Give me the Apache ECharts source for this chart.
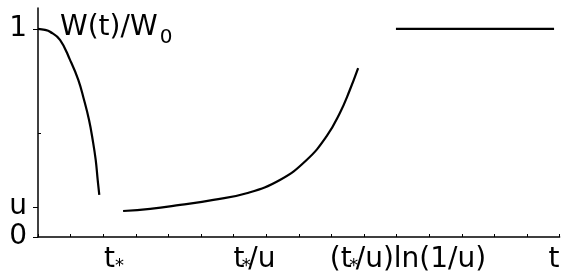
<!DOCTYPE html>
<html>
<head>
<meta charset="utf-8">
<script src="https://cdn.jsdelivr.net/npm/echarts@6/dist/echarts.min.js"></script>
<style>
  html, body { margin: 0; padding: 0; background: #fff; }
  #chart { width: 562px; height: 278px; }
</style>
</head>
<body>
<div id="chart"></div>
<script>
// x measured in tick steps (16 steps along the axis), y is W(t)/W0
const decayX = [0, 0.215, 0.368, 0.675, 0.982, 1.236, 1.411, 1.564, 1.678, 1.770, 1.831, 1.880];
const decayY = [1.0, 0.995, 0.986, 0.947, 0.851, 0.755, 0.659, 0.563, 0.466, 0.370, 0.274, 0.202];
const riseX = [2.61, 3.44, 4.36, 5.38, 6.40, 7.42, 8.24, 8.85, 9.26, 9.55, 9.82];
const riseY = [0.125, 0.135, 0.154, 0.178, 0.210, 0.274, 0.370, 0.483, 0.596, 0.700, 0.811];
const plateauX = [10.98, 15.83];
const plateauY = [1, 1];

const U = 0.144;
const xLabelPos = [2.33, 6.64, 11.35, 15.83];
const xLabelText = ["{m|t}{s|*}", "{m|t}{z|*}{m|/u}", "{m|(t}{z|*}{m|/u)ln(1/u)}", "{m|t}"];
const yLabelPos = [0, U, 1];
const yLabelText = ["0", "u", "1"];

const font = "DejaVu Sans";
const pairs = (xs, ys) => xs.map((x, i) => [x, ys[i]]);

const chart = echarts.init(document.getElementById("chart"));

const curve = (data, smooth) => ({
  type: "line",
  data: data,
  smooth: smooth,
  showSymbol: false,
  lineStyle: { color: "#000", width: 2.2 },
  z: 3,
});

chart.setOption({
  animation: false,
  backgroundColor: "#fff",
  title: {
    text: "{a|W(t)/W}{b|0}",
    left: 60,
    top: 14,
    padding: 0,
    textStyle: {
      fontWeight: "normal",
      rich: {
        a: { fontFamily: font, fontSize: 28, fontWeight: "normal", color: "#000", lineHeight: 28, verticalAlign: "top" },
        b: {
          fontFamily: font, fontSize: 20, fontWeight: "normal", color: "#000",
          lineHeight: 4, padding: [14, 0, 0, 2], verticalAlign: "top",
        },
      },
    },
  },
  grid: { left: 38, right: 2.4, top: 8, bottom: 41, outerBoundsMode: "none" },
  xAxis: {
    type: "value",
    min: 0,
    max: 16,
    interval: 1,
    splitLine: { show: false },
    axisLine: { lineStyle: { color: "#000", width: 1.5 } },
    axisTick: { inside: true, length: 3, lineStyle: { color: "#000", width: 1 } },
    axisLabel: {
      customValues: xLabelPos,
      margin: 8,
      formatter: (v) => xLabelText[xLabelPos.indexOf(v)],
      rich: {
        m: { fontFamily: font, fontSize: 28, color: "#000", lineHeight: 30 },
        s: { fontFamily: font, fontSize: 18, color: "#000", lineHeight: 9, verticalAlign: "bottom" },
        z: { fontFamily: font, fontSize: 18, color: "#000", lineHeight: 9, verticalAlign: "bottom", width: 4 },
      },
    },
  },
  yAxis: [
    {
      type: "value",
      min: 0,
      max: 1.1,
      splitLine: { show: false },
      axisLine: { lineStyle: { color: "#000", width: 1.5 } },
      axisTick: { customValues: yLabelPos, length: 5, lineStyle: { color: "#000", width: 1 } },
      axisLabel: {
        customValues: yLabelPos,
        margin: 11,
        fontFamily: font,
        fontSize: 28,
        color: "#000",
        formatter: (v) => yLabelText[yLabelPos.indexOf(v)],
      },
    },
    {
      type: "value",
      min: 0,
      max: 1.1,
      position: "left",
      splitLine: { show: false },
      axisLine: { show: false },
      axisTick: { customValues: [0.5], inside: true, length: 3, lineStyle: { color: "#000", width: 1 } },
      axisLabel: { show: false },
    },
  ],
  series: [
    curve(pairs(decayX, decayY), 0.45),
    curve(pairs(riseX, riseY), 0.45),
    curve(pairs(plateauX, plateauY), false),
  ],
});
</script>
</body>
</html>
